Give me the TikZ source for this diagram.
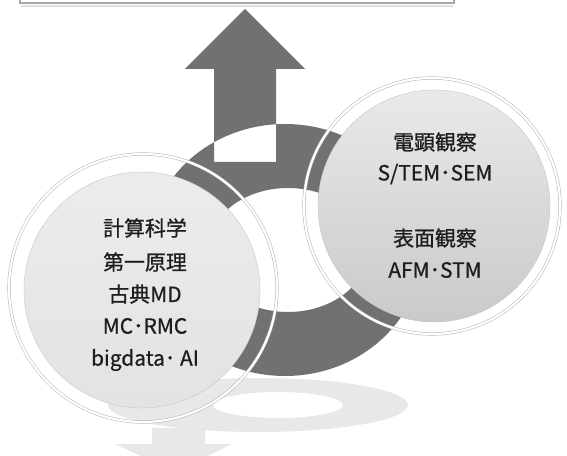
\documentclass[tikz,border=0pt]{standalone}
\usepackage{fontspec}
\setmainfont{Noto Sans CJK JP}[FakeBold=0.8]
\usepackage{tikz}
\usetikzlibrary{shapes}

\definecolor{ringgray}{HTML}{717171}
\definecolor{shadowgray}{HTML}{E8E8E8}
\definecolor{inkgray}{HTML}{1E1E1E}

\tikzset{
  disc/.style={circle, inner sep=0pt, draw=gray!45, line width=0.4bp},
  rim/.style={draw=gray!60, line width=0.5bp, double=white, double distance=2.2bp},
  label/.style={text=inkgray, font=\fontsize{21}{25}\selectfont, inner sep=0pt}
}

\begin{document}
\begin{tikzpicture}[x=1bp, y=-1bp]
\useasboundingbox (0,0) rectangle (567,456);
\clip (0,0) rectangle (567,456);

% shadow under the ring
\fill[shadowgray, even odd rule] (258,405) ellipse [x radius=150, y radius=27]
  (278,405) ellipse [x radius=65, y radius=13];
\fill[shadowgray] (152,428) -- (205,428) -- (205,444) -- (232,444) -- (175,472)
  -- (115,444) -- (152,444) -- cycle;

% box at the top, cut off
\draw[gray!25, line width=1.5bp] (21,6) -- (453,6);
\draw[gray!70, line width=1.5bp, fill=white] (20,-20) rectangle (454,3);

% ring and arrow
\fill[ringgray, even odd rule]
  (285,250) ellipse [x radius=137, y radius=126]
  (288,250) ellipse [x radius=80, y radius=62]
  (214,162) -- (214,69) -- (185,69) -- (245,9) -- (305,69) -- (276,69) -- (276,162) -- cycle;

% left circle
\node[disc, minimum size=236bp, top color=gray!15, bottom color=gray!22] (calc) at (142,290) {};
\draw[rim] (143,288) circle [radius=134];

% right circle
\node[disc, minimum size=232bp, top color=gray!17, bottom color=gray!42] (obs) at (434,206) {};
\draw[rim] (432,206) circle [radius=128];

\begin{scope}[every node/.style={label}]
  \node (c1) at (145,228) {計算科学};
  \node (c2) at (145,262) {第一原理};
  \node (c3) at (145,294) {古典MD};
  \node (c4) at (145,326) {MC･RMC};
  \node (c5) at (145,360) {bigdata･ AI};
  \node (o1) at (435,142) {電顕観察};
  \node (o2) at (435,174) {S/TEM･SEM};
  \node (o3) at (435,238) {表面観察};
  \node (o4) at (435,270) {AFM･STM};
\end{scope}

\end{tikzpicture}
\end{document}
